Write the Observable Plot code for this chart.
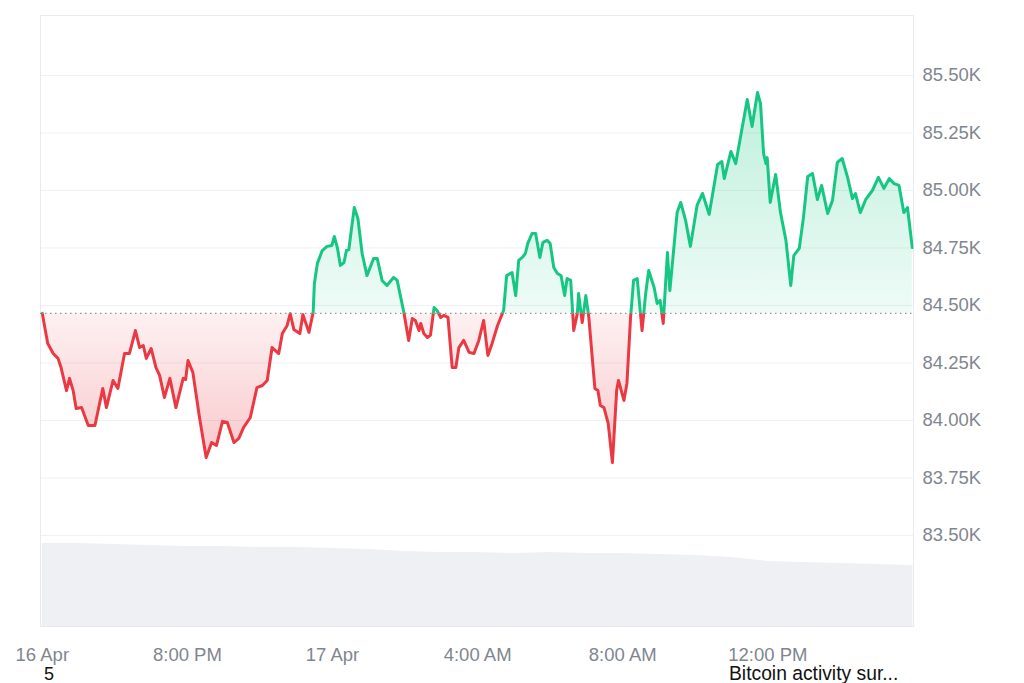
<!DOCTYPE html>
<html><head><meta charset="utf-8">
<script src="https://cdn.jsdelivr.net/npm/d3@7"></script>
<script src="https://cdn.jsdelivr.net/npm/@observablehq/plot@0.6"></script>
<style>
body{margin:0;background:#fff;font-family:"Liberation Sans",Arial,sans-serif}
#wrap{position:relative;width:1024px;height:683px;overflow:hidden;background:#fff}
#wrap svg{position:absolute;left:0;top:0}
.cap{position:absolute;top:665px;font-size:18px;line-height:18px;color:#111;font-family:"Liberation Sans",Arial,sans-serif;white-space:nowrap}
</style></head><body>
<div id="wrap"></div>
<script>
// minutes after 16 Apr 16:00
const minutes=[0,4,9,18,26,31,40,45,51,56,
65,76,87,100,106,117,125,136,144,154,
161,167,172,180,188,194,202,211,221,233,
237,241,249,260,271,280,288,298,306,317,
325,333,344,355,364,372,380,391,397,405,
410,416,426,431,441,448,450,455,463,471,
479,483,488,493,499,503,507,516,522,529,
537,548,554,562,570,581,587,598,606,612,
617,623,626,631,637,642,648,653,659,664,
671,678,684,689,697,706,714,722,730,737,
744,753,763,768,777,783,788,794,799,803,
810,816,823,828,835,840,846,852,858,864,
868,874,879,885,887,893,899,904,910,914,
919,923,929,936,943,950,953,962,967,973,
978,984,992,998,1003,1012,1017,1022,1027,1034,
1038,1050,1056,1064,1072,1083,1092,1103,1117,1124,
1128,1139,1147,1155,1166,1174,1183,1188,1193,1197,
1199,1204,1213,1221,1230,1238,1243,1252,1259,1266,
1274,1282,1289,1299,1307,1315,1323,1332,1340,1345,
1353,1362,1373,1383,1392,1401,1409,1417,1425,1431,1439];
// BTC price, USD
const prices=[84466,84406,84335,84291,84270,84230,84130,84183,84130,84052,
84056,83978,83978,84139,84056,84174,84139,84291,84291,84391,
84317,84326,84270,84313,84230,84196,84100,84183,84056,84183,
84178,84261,84209,84013,83839,83904,83891,83996,83991,83904,
83922,83970,84013,84143,84152,84174,84317,84291,84378,84413,
84465,84396,84378,84461,84383,84470,84596,84683,84739,84757,
84761,84800,84752,84674,84687,84739,84743,84926,84878,84726,
84630,84704,84704,84609,84587,84622,84609,84470,84348,84443,
84435,84391,84422,84378,84361,84370,84491,84478,84448,84457,
84448,84230,84230,84317,84348,84296,84291,84348,84435,84283,
84335,84413,84478,84630,84643,84543,84696,84709,84726,84770,
84813,84813,84709,84774,84783,84770,84665,84639,84630,84543,
84617,84609,84391,84465,84552,84426,84543,84448,84261,84139,
84130,84065,84056,83987,83817,84130,84174,84087,84161,84448,
84609,84617,84391,84552,84652,84578,84509,84522,84422,84730,
84565,84904,84948,84870,84757,84935,84987,84896,85113,85126,
85052,85170,85117,85235,85396,85278,85426,85378,85161,85117,
85143,84948,85070,84904,84783,84587,84717,84748,84883,85061,
85074,84961,85022,84900,84957,85122,85139,85057,84965,84987,
84904,84961,85000,85057,85009,85052,85030,85022,84904,84926,84752];
const baseline=84466;
// volume (B USD), hourly
const volumeHours=[0,1,2,3,4,5,6,7,8,9,10,11,12,13,14,15,16,17,18,19,20,21,22,23,24];
const volumes=[27.7,27.7,27.3,27.0,26.7,26.7,26.3,26.3,26.0,25.7,25.0,24.7,24.7,24.3,24.7,24.3,24.3,24.0,23.7,23.0,21.7,21.3,21.0,20.7,20.3];
const tickHours=[0,4,8,12,16,20];
const tickLabels=["16 Apr","8:00 PM","17 Apr","4:00 AM","8:00 AM","12:00 PM"];
const yTicks=[83500,83750,84000,84250,84500,84750,85000,85250,85500];

const W=1024,H=683,mt=15,mb=57,ml=40,mr=111;
const yDomain=[83104,85761];
const start=new Date(2025,3,16,16,0);
const t=m=>new Date(start.getTime()+m*60000);
const priceData=minutes.map((m,i)=>({time:t(m),price:prices[i]}));
const volData=volumeHours.map((h,i)=>({time:t(h*60),vol:volumes[i]}));
const xDomain=[t(-3),t(1441)];
const xTicks=tickHours.map(h=>t(h*60));
const labelMap=new Map(xTicks.map((d,i)=>[+d,tickLabels[i]]));
const font='"Liberation Sans",Arial,sans-serif';

const vol=Plot.plot({width:W,height:H,marginTop:mt,marginBottom:mb,marginLeft:ml,marginRight:mr,
  style:{background:"transparent"},
  x:{type:"time",domain:xDomain,axis:null},
  y:{domain:[0,(H-mb-mt)/3],axis:null},
  marks:[Plot.areaY(volData,{x:"time",y:"vol",fill:"#eef0f3"})]
});

const main=Plot.plot({width:W,height:H,marginTop:mt,marginBottom:mb,marginLeft:ml,marginRight:mr,
  style:{background:"transparent",fontFamily:font,fontSize:"18px",overflow:"visible"},
  x:{type:"time",domain:xDomain,label:null},
  y:{domain:yDomain,label:null},
  marks:[
    Plot.gridY(yTicks,{stroke:"#eef0f3",strokeOpacity:1}),
    Plot.frame({stroke:"#e8eaed"}),
    Plot.areaY(priceData,{x:"time",y1:baseline,y2:"price",fill:"url(#gradUp)"}),
    Plot.areaY(priceData,{x:"time",y1:baseline,y2:"price",fill:"url(#gradDown)"}),
    Plot.ruleY([baseline],{stroke:"#8f959e",strokeDasharray:"1.5,3.5",strokeWidth:1.2}),
    Plot.lineY(priceData,{x:"time",y:"price",stroke:"#16c784",strokeWidth:3}),
    Plot.lineY(priceData,{x:"time",y:"price",stroke:"#ea3943",strokeWidth:3}),
    Plot.axisY(yTicks,{anchor:"right",label:null,tickSize:0,tickPadding:9,tickFormat:d=>(d/1000).toFixed(2)+"K",fill:"#80868f",fontSize:18.5}),
    Plot.axisX(xTicks,{label:null,tickSize:0,tickPadding:21,tickFormat:d=>labelMap.get(+d),fill:"#80868f",fontSize:18.5})
  ]
});

const NS="http://www.w3.org/2000/svg";
function el(name,attrs,parent){const e=document.createElementNS(NS,name);for(const k in attrs)e.setAttribute(k,attrs[k]);if(parent)parent.appendChild(e);return e;}
const ys=d3.scaleLinear(yDomain,[H-mb,mt]);
const yb=ys(baseline);
const defs=el("defs",{});
main.insertBefore(defs,main.firstChild);
const gu=el("linearGradient",{id:"gradUp",gradientUnits:"userSpaceOnUse",x1:0,x2:0,y1:ys(85430),y2:yb},defs);
el("stop",{offset:0,"stop-color":"#16c784","stop-opacity":0.28},gu);
el("stop",{offset:1,"stop-color":"#16c784","stop-opacity":0.07},gu);
const gd=el("linearGradient",{id:"gradDown",gradientUnits:"userSpaceOnUse",x1:0,x2:0,y1:yb,y2:ys(83817)},defs);
el("stop",{offset:0,"stop-color":"#ea3943","stop-opacity":0.07},gd);
el("stop",{offset:1,"stop-color":"#ea3943","stop-opacity":0.28},gd);
const cu=el("clipPath",{id:"clipUp"},defs);
el("rect",{x:ml,y:0,width:W-ml-mr,height:yb},cu);
const cd=el("clipPath",{id:"clipDown"},defs);
el("rect",{x:ml,y:yb,width:W-ml-mr,height:H-mb-yb+6},cd);
const areas=main.querySelectorAll('g[aria-label="area"]');
areas[0].setAttribute("clip-path","url(#clipUp)");
areas[1].setAttribute("clip-path","url(#clipDown)");
const lines=main.querySelectorAll('g[aria-label="line"]');
lines[0].setAttribute("clip-path","url(#clipUp)");
lines[1].setAttribute("clip-path","url(#clipDown)");

const wrap=document.getElementById("wrap");
wrap.appendChild(vol);
wrap.appendChild(main);
const c1=document.createElement("div");c1.className="cap";c1.style.left="44px";c1.textContent="5";wrap.appendChild(c1);
const c2=document.createElement("div");c2.className="cap";c2.style.left="729px";c2.style.fontSize="19.3px";c2.textContent="Bitcoin activity sur...";wrap.appendChild(c2);
</script>
</body></html>
